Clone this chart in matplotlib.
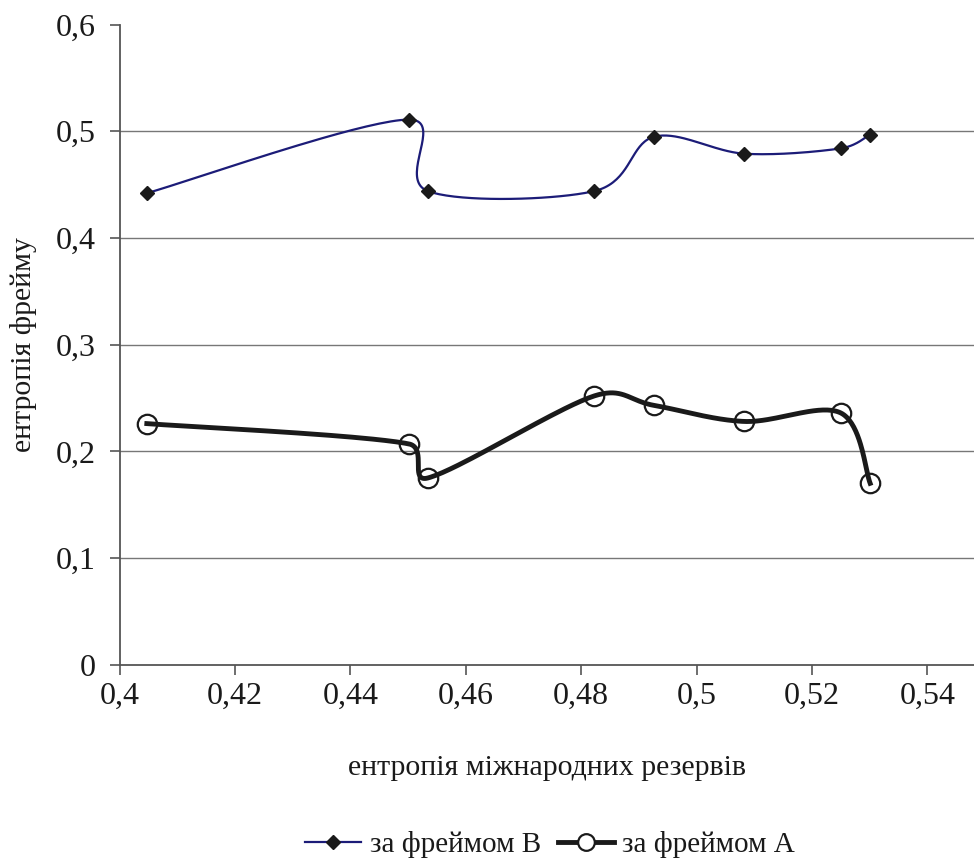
import numpy as np
import matplotlib
matplotlib.use("Agg")
import matplotlib.pyplot as plt
from matplotlib.lines import Line2D

plt.rcParams['font.family'] = ['Liberation Serif', 'DejaVu Serif']

# дані
x_vals = [0.4047, 0.4501, 0.4534, 0.4823, 0.4927, 0.5083, 0.5250, 0.5301]
frame_b = [0.442, 0.511, 0.444, 0.444, 0.495, 0.479, 0.484, 0.497]
frame_a = [0.226, 0.207, 0.175, 0.252, 0.243, 0.228, 0.236, 0.170]

x_ticks = [0.4, 0.42, 0.44, 0.46, 0.48, 0.5, 0.52, 0.54]
y_ticks = [0, 0.1, 0.2, 0.3, 0.4, 0.5, 0.6]
x_label = 'ентропія міжнародних резервів'
y_label = 'ентропія фрейму'
names = ['за фреймом В', 'за фреймом А']


def comma(v):
    s = ('%.2f' % v).rstrip('0').rstrip('.')
    return s.replace('.', ',')


def excel_smooth(ax, xs, ys, n=40):
    # згладжування як у Excel (Безьє в екранних координатах)
    pts = ax.transData.transform(np.column_stack([xs, ys]))
    out = []
    k = len(pts)
    for i in range(k - 1):
        p0 = pts[i - 1] if i > 0 else pts[i]
        p1 = pts[i]
        p2 = pts[i + 1]
        p3 = pts[i + 2] if i + 2 < k else pts[i + 1]
        d02 = np.hypot(*(p2 - p0))
        d12 = np.hypot(*(p2 - p1))
        d13 = np.hypot(*(p3 - p1))
        f1 = 1 / 6 if d02 / 6 < d12 / 2 else d12 / 2 / d02
        f2 = 1 / 6 if d13 / 6 < d12 / 2 else d12 / 2 / d13
        c1 = p1 + f1 * (p2 - p0)
        c2 = p2 - f2 * (p3 - p1)
        t = np.linspace(0, 1, n)[:, None]
        seg = (1 - t) ** 3 * p1 + 3 * (1 - t) ** 2 * t * c1 + 3 * (1 - t) * t ** 2 * c2 + t ** 3 * p2
        out.append(seg if i == 0 else seg[1:])
    xy = ax.transData.inverted().transform(np.vstack(out))
    return xy[:, 0], xy[:, 1]


fig = plt.figure(figsize=(9.74, 8.61), dpi=100)
ax = fig.add_axes([0.1229, 0.228, 1 - 0.1229, 0.9714 - 0.228])
ax.set_xlim(0.4, 0.5481)
ax.set_ylim(0, 0.6)

for sp in ['top', 'right']:
    ax.spines[sp].set_visible(False)
for sp in ['left', 'bottom']:
    ax.spines[sp].set_color('#555555')
    ax.spines[sp].set_linewidth(1.3)

# горизонтальна сітка
for yv in y_ticks[1:-1]:
    ax.axhline(yv, color='#777777', lw=1.0, zorder=1)

ax.set_xticks(x_ticks)
ax.set_xticklabels([comma(v) for v in x_ticks])
ax.set_yticks(y_ticks)
ax.set_yticklabels([comma(v) for v in y_ticks])
ax.tick_params(direction='out', length=7, width=1.2, color='#555555',
               labelsize=23, labelcolor='#1a1a1a')
ax.tick_params(axis='x', pad=5)
ax.tick_params(axis='y', pad=10)

ax.set_xlabel(x_label, fontsize=21.5, labelpad=32, color='#1a1a1a')
ax.set_ylabel(y_label, fontsize=21.5, labelpad=14, color='#1a1a1a')

bx, by = excel_smooth(ax, x_vals, frame_b)
ax.plot(bx, by, color='#1c1c78', lw=1.6, zorder=3)
ax.plot(x_vals, frame_b, ls='none', marker='D', ms=7, color='#1a1a1a', zorder=4)

axx, axy = excel_smooth(ax, x_vals, frame_a)
ax.plot(axx, axy, color='#1a1a1a', lw=3.5, zorder=3)
ax.plot(x_vals, frame_a, ls='none', marker='o', ms=14, mfc='none',
        mec='#1a1a1a', mew=1.6, zorder=4)

handles = [
    Line2D([], [], color='#1c1c78', lw=1.6, marker='D', ms=7, mfc='#1a1a1a', mec='#1a1a1a'),
    Line2D([], [], color='#1a1a1a', lw=3.5, marker='o', ms=12, mfc='white', mec='#1a1a1a', mew=1.6),
]
fig.legend(handles, names, loc='center', bbox_to_anchor=(0.565, 0.019), ncol=2,
           frameon=False, fontsize=21, handlelength=1.9, handletextpad=0.3,
           columnspacing=0.6, borderaxespad=0, labelcolor='#1a1a1a')

fig.savefig('out.png', dpi=100)
